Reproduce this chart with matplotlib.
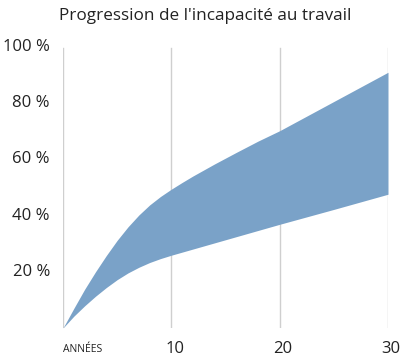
#!/usr/bin/env python

import matplotlib
matplotlib.use("Agg")
import matplotlib.pyplot as plt

# years and the two edges of the band (percent)
years = [0, 1, 2, 3, 4, 5, 6, 7, 8, 9, 10, 11, 12, 14, 16, 18, 20, 25, 30]
upper = [0, 7.0, 13.8, 20.0, 25.8, 31.2, 36.0, 40.2, 43.8, 46.8, 49.4,
         51.8, 54.1, 58.4, 62.5, 66.5, 70.2, 80.6, 91.0]
lower = [0, 4.2, 7.9, 11.3, 14.4, 17.2, 19.6, 21.6, 23.3, 24.7, 25.9,
         27.0, 28.1, 30.3, 32.5, 34.7, 36.9, 42.2, 47.6]

ytick_vals = [20, 40, 60, 80, 100]
xtick_vals = [10, 20, 30]
title = "Progression de l'incapacité au travail"

plt.rcParams["font.family"] = ["Open Sans", "DejaVu Sans"]

fig = plt.figure(figsize=(4.0, 3.58), dpi=100)
ax = fig.add_axes([0.1575, 0.0838, 0.8125, 0.785])

for x in [0] + xtick_vals:
    ax.axvline(x, ymin=-0.005, ymax=0.995, color="#cfcfcf", lw=1.0, zorder=1)

ax.fill_between(years, lower, upper, color="#7aa2c8", lw=0, zorder=2)

ax.set_xlim(0, 30)
ax.set_ylim(0, 100)
ax.axis("off")

for v in ytick_vals:
    ax.text(-1.2, v, "%d %%" % v, ha="right", va="center", fontsize=12,
            color="#222222")
for v in xtick_vals:
    ax.text(v + 0.3, -7.3, str(v), ha="center", va="center", fontsize=12,
            color="#222222")
ax.text(0, -7.6, "ANNÉES", ha="left", va="center", fontsize=7.5,
        color="#222222")

fig.text(0.512, 0.955, title, ha="center", va="center", fontsize=12.3,
         color="#222222")

fig.savefig("out.png", dpi=100)
